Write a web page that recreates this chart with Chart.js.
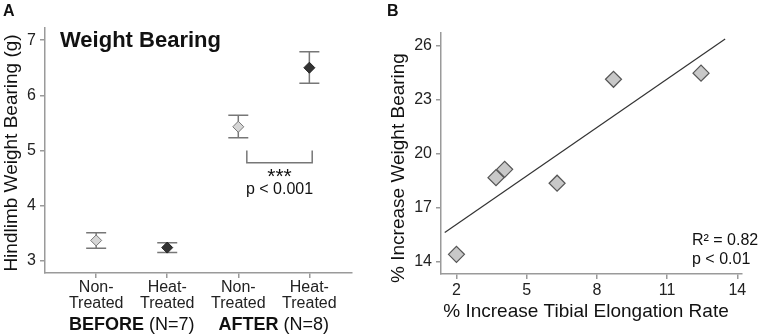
<!DOCTYPE html>
<html>
<head>
<meta charset="utf-8">
<script src="https://cdn.jsdelivr.net/npm/chart.js@4.4.1/dist/chart.umd.min.js"></script>
<style>
  html, body { margin: 0; padding: 0; background: #fff; }
  #wrap { position: relative; width: 758px; height: 336px; }
  .panel { position: absolute; top: 0; height: 336px; }
  #panelA { left: 0; width: 380px; }
  #panelB { left: 380px; width: 378px; }
</style>
</head>
<body>
<div id="wrap">
  <div class="panel" id="panelA"><canvas id="chartA"></canvas></div>
  <div class="panel" id="panelB"><canvas id="chartB"></canvas></div>
</div>
<script>
// --- Panel A: weight bearing before / after ---
const catLabels = [['Non-', 'Treated'], ['Heat-', 'Treated'], ['Non-', 'Treated'], ['Heat-', 'Treated']];
const catPos = [0, 1, 2, 3];
const heated = [false, true, false, true];
const meanA = [3.37, 3.24, 5.43, 6.50];
const upperA = [3.51, 3.33, 5.64, 6.79];
const lowerA = [3.23, 3.15, 5.23, 6.22];
const yTicksA = [3, 4, 5, 6, 7];
const groupNames = ['BEFORE', 'AFTER'];
const groupN = [' (N=7)', ' (N=8)'];
// significance bracket between the two AFTER groups
const bracketX = [2.12, 3.04];
const bracketY = [5.0, 4.78];

// --- Panel B: correlation ---
const elongation = [2.0, 3.69, 4.06, 6.30, 8.71, 12.45];
const wbIncrease = [14.41, 18.67, 19.13, 18.36, 24.13, 24.47];
const fitX = [1.50, 13.48];
const fitY = [15.63, 26.37];
const xTicksB = [2, 5, 8, 11, 14];
const yTicksB = [14, 17, 20, 23, 26];

const FONT = '"Liberation Sans", Arial, sans-serif';
const AXIS = '#9a9a9a';
Chart.defaults.font.family = FONT;
Chart.defaults.color = '#222';
Chart.defaults.animation = false;
Chart.defaults.responsive = true;
Chart.defaults.maintainAspectRatio = false;

function setTicks(values) {
  return scale => { scale.ticks = values.map(v => ({ value: v })); };
}

function axisOpts(extra) {
  return Object.assign({
    type: 'linear',
    border: { display: true, color: AXIS, width: 1.5 },
    grid: { display: true, drawOnChartArea: false, color: AXIS, lineWidth: 1.5, tickLength: 5 },
  }, extra);
}

// error bars drawn under the diamonds
const errorBars = {
  id: 'errorBars',
  beforeDatasetsDraw(chart) {
    const { ctx, scales: { x, y } } = chart;
    ctx.save();
    ctx.strokeStyle = '#777';
    ctx.lineWidth = 1.5;
    catPos.forEach((c, i) => {
      const px = x.getPixelForValue(c);
      const top = y.getPixelForValue(upperA[i]);
      const bot = y.getPixelForValue(lowerA[i]);
      ctx.beginPath();
      ctx.moveTo(px, top); ctx.lineTo(px, bot);
      ctx.moveTo(px - 10, top); ctx.lineTo(px + 10, top);
      ctx.moveTo(px - 10, bot); ctx.lineTo(px + 10, bot);
      ctx.stroke();
    });
    // bracket
    const x0 = x.getPixelForValue(bracketX[0]);
    const x1 = x.getPixelForValue(bracketX[1]);
    const yt = y.getPixelForValue(bracketY[0]);
    const yb = y.getPixelForValue(bracketY[1]);
    ctx.beginPath();
    ctx.moveTo(x0, yt); ctx.lineTo(x0, yb); ctx.lineTo(x1, yb); ctx.lineTo(x1, yt);
    ctx.stroke();
    ctx.restore();
  }
};

// texts of panel A
const textsA = {
  id: 'textsA',
  afterDraw(chart) {
    const { ctx, scales: { x, y } } = chart;
    ctx.save();
    ctx.fillStyle = '#111';
    ctx.textBaseline = 'alphabetic';
    ctx.textAlign = 'left';
    ctx.font = 'bold 16px ' + FONT;
    ctx.fillText('A', 3, 16);
    ctx.font = 'bold 22px ' + FONT;
    ctx.fillText('Weight Bearing', 60, 47);

    // y title
    ctx.save();
    ctx.translate(17, 153);
    ctx.rotate(-Math.PI / 2);
    ctx.textAlign = 'center';
    ctx.font = '19px ' + FONT;
    ctx.fillText('Hindlimb Weight Bearing (g)', 0, 0);
    ctx.restore();

    // significance
    const cx = (x.getPixelForValue(bracketX[0]) + x.getPixelForValue(bracketX[1])) / 2;
    const yb = y.getPixelForValue(bracketY[1]);
    ctx.textAlign = 'center';
    ctx.font = '21px ' + FONT;
    ctx.fillText('***', cx, yb + 20);
    ctx.font = '16px ' + FONT;
    ctx.fillText('p < 0.001', cx, yb + 31);

    // group labels
    for (let g = 0; g < 2; g++) {
      const gx = (x.getPixelForValue(catPos[g * 2]) + x.getPixelForValue(catPos[g * 2 + 1])) / 2;
      ctx.font = 'bold 18px ' + FONT;
      const w1 = ctx.measureText(groupNames[g]).width;
      ctx.font = '18px ' + FONT;
      const w2 = ctx.measureText(groupN[g]).width;
      const left = gx - (w1 + w2) / 2;
      ctx.textAlign = 'left';
      ctx.font = 'bold 18px ' + FONT;
      ctx.fillText(groupNames[g], left, 330);
      ctx.font = '18px ' + FONT;
      ctx.fillText(groupN[g], left + w1, 330);
    }
    ctx.restore();
  }
};

new Chart(document.getElementById('chartA'), {
  type: 'scatter',
  data: {
    datasets: [{
      data: catPos.map((c, i) => ({ x: c, y: meanA[i] })),
      pointStyle: 'rectRot',
      pointRadius: 5.5,
      pointHoverRadius: 5.5,
      borderWidth: 1,
      backgroundColor: catPos.map((c, i) => heated[i] ? '#333' : '#d6d6d6'),
      borderColor: catPos.map((c, i) => heated[i] ? '#222' : '#777'),
    }]
  },
  options: {
    layout: { padding: { top: 28, right: 28, left: 0, bottom: 0 } },
    plugins: { legend: { display: false }, tooltip: { enabled: false } },
    scales: {
      x: axisOpts({
        min: -0.72, max: 3.6,
        afterBuildTicks: setTicks(catPos),
        afterFit: s => { s.height = 63; },
        ticks: {
          padding: 2,
          font: { size: 16, lineHeight: 1 },
          callback: (v, i) => catLabels[i]
        }
      }),
      y: axisOpts({
        min: 2.78, max: 7.22,
        afterBuildTicks: setTicks(yTicksA),
        afterFit: s => { s.width = 45; },
        ticks: { padding: 4, font: { size: 16 } }
      })
    }
  },
  plugins: [errorBars, textsA]
});

// texts of panel B
const textsB = {
  id: 'textsB',
  afterDraw(chart) {
    const { ctx } = chart;
    ctx.save();
    ctx.fillStyle = '#111';
    ctx.textAlign = 'left';
    ctx.font = 'bold 16px ' + FONT;
    ctx.fillText('B', 7, 16);
    ctx.font = '16px ' + FONT;
    ctx.fillText('R\u00B2 = 0.82', 312, 245);
    ctx.fillText('p < 0.01', 312, 264);
    ctx.textAlign = 'center';
    ctx.font = '19px ' + FONT;
    ctx.fillText('% Increase Tibial Elongation Rate', 206, 317);
    ctx.translate(24, 168);
    ctx.rotate(-Math.PI / 2);
    ctx.fillText('% Increase Weight Bearing', 0, 0);
    ctx.restore();
  }
};

new Chart(document.getElementById('chartB'), {
  type: 'scatter',
  data: {
    datasets: [{
      type: 'line',
      data: fitX.map((v, i) => ({ x: v, y: fitY[i] })),
      borderColor: '#333',
      borderWidth: 1.2,
      pointRadius: 0,
      fill: false,
    }, {
      data: elongation.map((v, i) => ({ x: v, y: wbIncrease[i] })),
      pointStyle: 'rectRot',
      pointRadius: 8,
      pointHoverRadius: 8,
      borderWidth: 1.2,
      backgroundColor: '#c8c8c8',
      borderColor: '#555',
    }]
  },
  options: {
    layout: { padding: { top: 33, right: 16, left: 0, bottom: 0 } },
    plugins: { legend: { display: false }, tooltip: { enabled: false } },
    scales: {
      x: axisOpts({
        min: 1.34, max: 14.2,
        afterBuildTicks: setTicks(xTicksB),
        afterFit: s => { s.height = 62; },
        ticks: { padding: 2, font: { size: 16 } }
      }),
      y: axisOpts({
        min: 13.32, max: 26.7,
        afterBuildTicks: setTicks(yTicksB),
        afterFit: s => { s.width = 61; },
        ticks: { padding: 4, font: { size: 16 } }
      })
    }
  },
  plugins: [textsB]
});
</script>
</body>
</html>
